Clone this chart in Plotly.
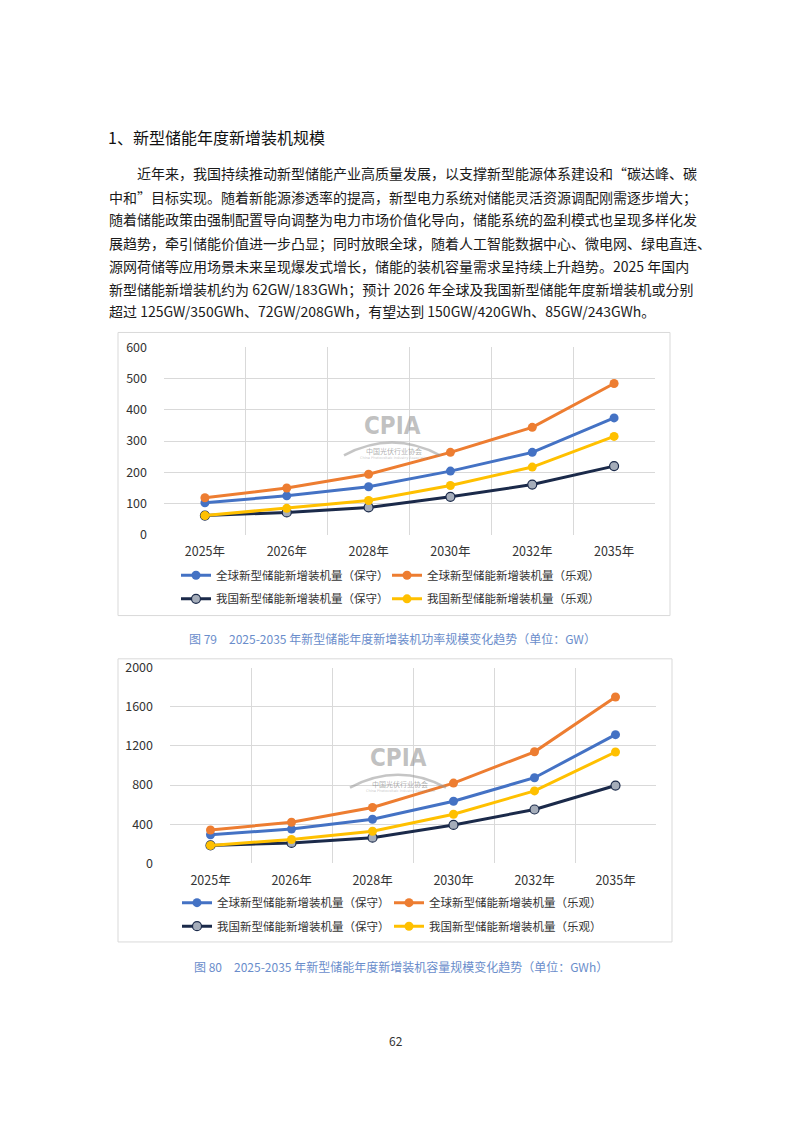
import plotly.graph_objects as go

W, H = 793, 1121

# ---------------- data ----------------
categories = ["2025年", "2026年", "2028年", "2030年", "2032年", "2035年"]

series_names = [
    "全球新型储能新增装机量（保守）",
    "全球新型储能新增装机量（乐观）",
    "我国新型储能新增装机量（保守）",
    "我国新型储能新增装机量（乐观）",
]

# Figure 79: power (GW)
gw_global_cons = [103, 125, 154, 204, 264, 374]
gw_global_opt = [119, 150, 194, 264, 344, 484]
gw_china_cons = [62, 72, 88, 122, 161, 220]
gw_china_opt = [62, 85, 110, 158, 217, 315]

# Figure 80: energy (GWh)
gwh_global_cons = [292, 350, 450, 635, 875, 1315]
gwh_global_opt = [340, 420, 570, 820, 1140, 1700]
gwh_china_cons = [183, 208, 262, 392, 550, 795]
gwh_china_opt = [183, 243, 328, 502, 740, 1138]

y1_ticks = [0, 100, 200, 300, 400, 500, 600]
y2_ticks = [0, 400, 800, 1200, 1600, 2000]

heading = "1、新型储能年度新增装机规模"
paragraph_lines = [
    "近年来，我国持续推动新型储能产业高质量发展，以支撑新型能源体系建设和“碳达峰、碳",
    "中和”目标实现。随着新能源渗透率的提高，新型电力系统对储能灵活资源调配刚需逐步增大；",
    "随着储能政策由强制配置导向调整为电力市场价值化导向，储能系统的盈利模式也呈现多样化发",
    "展趋势，牵引储能价值进一步凸显；同时放眼全球，随着人工智能数据中心、微电网、绿电直连、",
    "源网荷储等应用场景未来呈现爆发式增长，储能的装机容量需求呈持续上升趋势。2025 年国内",
    "新型储能新增装机约为 62GW/183GWh；预计 2026 年全球及我国新型储能年度新增装机或分别",
    "超过 125GW/350GWh、72GW/208GWh，有望达到 150GW/420GWh、85GW/243GWh。",
]
caption1 = "图 79　2025-2035 年新型储能年度新增装机功率规模变化趋势（单位：GW）"
caption2 = "图 80　2025-2035 年新型储能年度新增装机容量规模变化趋势（单位：GWh）"
page_number = "62"

# ---------------- styles ----------------
FONT = "Noto Sans CJK SC, Microsoft YaHei, sans-serif"
COLORS = ["#4472C4", "#ED7D31", "#1B2A4A", "#FFC000"]
MARKER_FILL = ["#4472C4", "#ED7D31", "#A5ADBA", "#FFC000"]
GRID = "#D9D9D9"
CAP_COLOR = "#6A8DCB"


def px(x):
    return x / W


def py(y):
    return 1 - y / H


xpos = list(range(len(categories)))

fig = go.Figure()

# (values, xaxis, yaxis, legend ids per series)
chart_sets = [
    ([gw_global_cons, gw_global_opt, gw_china_cons, gw_china_opt], "x", "y",
     ["legend", "legend2", "legend3", "legend4"]),
    ([gwh_global_cons, gwh_global_opt, gwh_china_cons, gwh_china_opt], "x2", "y2",
     ["legend5", "legend6", "legend7", "legend8"]),
]

for values, xa, ya, legs in chart_sets:
    for i, (name, vals) in enumerate(zip(series_names, values)):
        fig.add_trace(go.Scatter(
            x=xpos, y=vals, name=name, mode="lines+markers",
            xaxis=xa, yaxis=ya,
            line=dict(color=COLORS[i], width=3),
            marker=dict(size=9, color=MARKER_FILL[i],
                        line=dict(color=COLORS[i], width=1.2 if i == 2 else 0)),
            legend=legs[i], showlegend=True,
            hoverinfo="skip",
        ))


def xaxis_cfg(x0, x1):
    return dict(
        domain=[px(x0), px(x1)], range=[-0.5, len(categories) - 0.5],
        tickmode="array", tickvals=xpos, ticktext=categories,
        showgrid=False, zeroline=False, showline=False, ticks="",
        tickfont=dict(family=FONT, size=12.5, color="#333333"),
        ticklabelstandoff=8,
        minor=dict(tickmode="array", tickvals=[v - 0.5 for v in range(len(categories) + 1)],
                   showgrid=True, gridcolor=GRID, gridwidth=1, ticks=""),
        fixedrange=True,
    )


def yaxis_cfg(y_top, y_bot, ticks, xa):
    return dict(
        domain=[py(y_bot), py(y_top)], range=[ticks[0], ticks[-1]],
        tickmode="array", tickvals=ticks, ticktext=[str(t) for t in ticks],
        showgrid=True, gridcolor=GRID, gridwidth=1, zeroline=False, showline=False,
        ticks="", tickfont=dict(family=FONT, size=12.5, color="#333333"),
        ticklabelstandoff=16, anchor=xa, fixedrange=True,
    )


fig.update_layout(
    width=W, height=H,
    margin=dict(l=0, r=0, t=0, b=0),
    paper_bgcolor="white", plot_bgcolor="white",
    font=dict(family=FONT, color="#222222"),
    showlegend=True,
    xaxis=dict(**xaxis_cfg(164, 655), anchor="y"),
    yaxis=yaxis_cfg(342, 533, y1_ticks, "x"),
    xaxis2=dict(**xaxis_cfg(170, 656), anchor="y2"),
    yaxis2=yaxis_cfg(668, 867, y2_ticks, "x2"),
)

leg_common = dict(orientation="h", xanchor="left", yanchor="middle",
                  bgcolor="rgba(0,0,0,0)", borderwidth=0, itemwidth=30,
                  font=dict(family=FONT, size=11.5, color="#333333"),
                  itemclick=False, itemdoubleclick=False, tracegroupgap=0, visible=True)
legend_pos = {
    "legend": (176, 574), "legend2": (387, 574), "legend3": (176, 598), "legend4": (387, 598),
    "legend5": (177, 907), "legend6": (389, 907), "legend7": (177, 931), "legend8": (389, 931),
}
fig.update_layout(**{k: dict(x=px(v[0]), y=py(v[1]), **leg_common) for k, v in legend_pos.items()})

shapes = []
# chart frames
for (x0, y0, x1, y1) in [(118, 327, 670, 615), (118, 659, 672, 947)]:
    shapes.append(dict(type="rect", xref="paper", yref="paper",
                       x0=px(x0), x1=px(x1), y0=py(y1), y1=py(y0),
                       line=dict(color=GRID, width=1), layer="below"))
# watermark arcs
for (cx, cy) in [(392, 422), (398, 760)]:
    xl, xr = cx - 48, cx + 48
    yb, ya = cy + 30, cy + 4
    shapes.append(dict(type="path", xref="paper", yref="paper",
                       path=f"M {px(xl)},{py(yb)} Q {px(cx)},{py(ya)} {px(xr)},{py(yb)}",
                       line=dict(color="rgba(150,150,150,0.55)", width=2.5), layer="above"))
fig.update_layout(shapes=shapes)

ann = []
ann.append(dict(text=heading, x=px(106), y=py(128), xref="paper", yref="paper",
                xanchor="left", yanchor="middle", showarrow=False,
                font=dict(family=FONT, size=16, color="#111111")))
line_ys = [165, 189, 212, 236, 259, 283, 305]
for i, (t, yy) in enumerate(zip(paragraph_lines, line_ys)):
    ann.append(dict(text=t, x=px(135 if i == 0 else 107), y=py(yy), xref="paper", yref="paper",
                    xanchor="left", yanchor="middle", showarrow=False,
                    font=dict(family=FONT, size=14, color="#1A1A1A")))
ann.append(dict(text=caption1, x=px(392), y=py(638), xref="paper", yref="paper",
                xanchor="center", yanchor="middle", showarrow=False,
                font=dict(family=FONT, size=12, color=CAP_COLOR)))
ann.append(dict(text=caption2, x=px(401), y=py(972), xref="paper", yref="paper",
                xanchor="center", yanchor="middle", showarrow=False,
                font=dict(family=FONT, size=12, color=CAP_COLOR)))
ann.append(dict(text=page_number, x=px(396), y=py(1047), xref="paper", yref="paper",
                xanchor="center", yanchor="middle", showarrow=False,
                font=dict(family=FONT, size=12, color="#333333")))
# watermark text
for (cx, cy) in [(392, 422), (398, 760)]:
    ann.append(dict(text="<b>CPIA</b>", x=px(cx), y=py(cy), xref="paper", yref="paper",
                    xanchor="center", yanchor="middle", showarrow=False,
                    font=dict(family="DejaVu Sans Condensed, Liberation Sans Narrow, sans-serif",
                              size=24, color="rgba(140,140,140,0.55)")))
    ann.append(dict(text="中国光伏行业协会", x=px(cx + 2), y=py(cy + 26), xref="paper", yref="paper",
                    xanchor="center", yanchor="middle", showarrow=False,
                    font=dict(family=FONT, size=7, color="rgba(120,120,120,0.6)")))
    ann.append(dict(text="China Photovoltaic Industry Association", x=px(cx + 2), y=py(cy + 33),
                    xref="paper", yref="paper", xanchor="center", yanchor="middle", showarrow=False,
                    font=dict(family="DejaVu Sans", size=3.5, color="rgba(140,140,140,0.5)")))
fig.update_layout(annotations=ann)

fig.write_html("out.html", config={"displayModeBar": False},
               post_script="document.body.style.margin='0';")
